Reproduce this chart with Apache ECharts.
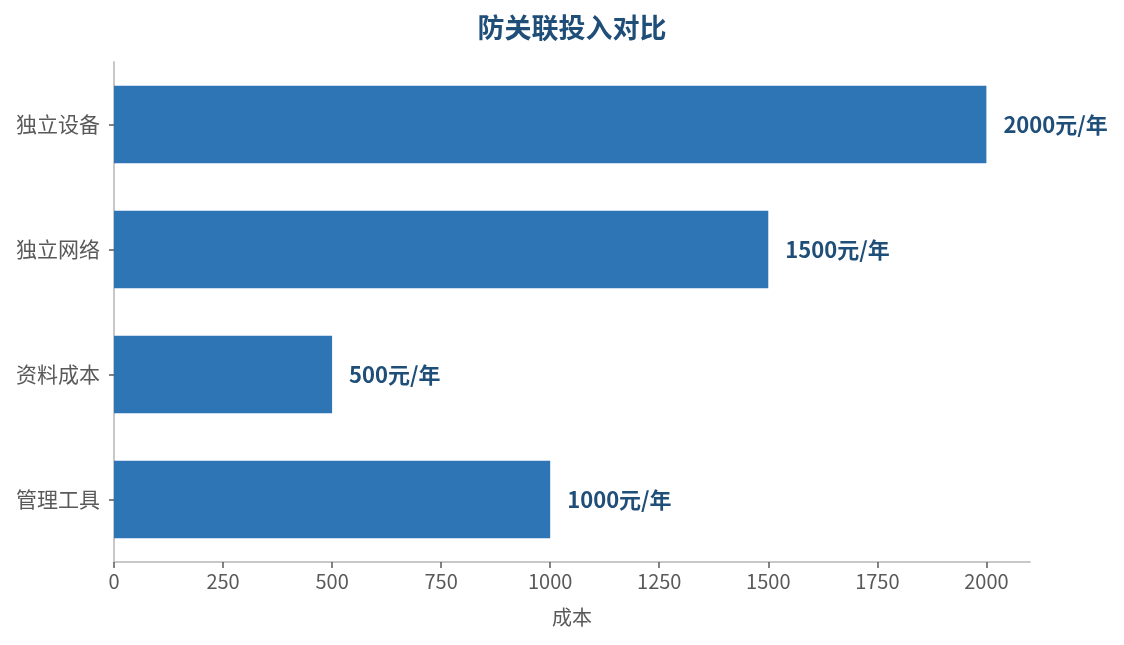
<!DOCTYPE html>
<html>
<head>
<meta charset="utf-8">
<script src="https://cdn.jsdelivr.net/npm/echarts@6/dist/echarts.min.js"></script>
<style>
  html, body { margin: 0; padding: 0; background: #fff; }
  #chart { width: 1124px; height: 645px; }
</style>
</head>
<body>
<div id="chart"></div>
<script>
// 数据
var categories = ['独立设备', '独立网络', '资料成本', '管理工具'];
var costs = [2000, 1500, 500, 1000];
var xTicks = [0, 250, 500, 750, 1000, 1250, 1500, 1750, 2000];

var font = '"Noto Sans CJK SC", "Noto Sans", sans-serif';
var chart = echarts.init(document.getElementById('chart'));

var option = {
  title: {   // 标题，居中于绘图区
    text: '防关联投入对比',
    left: 572,
    top: 14,
    padding: 0,
    textAlign: 'center',
    textStyle: { fontFamily: font, fontSize: 27, fontWeight: 'bold', color: '#1f4e79' }
  },
  grid: { left: 114, right: 94, top: 62, bottom: 83 },
  xAxis: {
    type: 'value',
    min: 0,
    max: 2100,
    interval: 250,
    name: '成本',
    nameLocation: 'middle',
    nameGap: 45,
    nameTextStyle: { fontFamily: font, fontSize: 20, color: '#595959' },
    axisLine: { show: true, lineStyle: { color: '#c8c8c8', width: 2 } },
    axisTick: { show: true, length: 6, customValues: xTicks, lineStyle: { color: '#595959', width: 1.5 } },
    axisLabel: {
      customValues: xTicks,
      margin: 9,
      fontFamily: font,
      fontSize: 20,
      color: '#595959',
      formatter: function (v) { return String(v); }   // 不要千位分隔符
    },
    splitLine: { show: false }
  },
  yAxis: {
    type: 'category',
    inverse: true,
    data: categories,
    axisLine: { show: true, lineStyle: { color: '#c8c8c8', width: 2 } },
    axisTick: { show: true, alignWithLabel: true, length: 5, lineStyle: { color: '#595959', width: 1.5 } },
    axisLabel: { margin: 14, fontFamily: font, fontSize: 21, color: '#595959' }
  },
  series: [
    {
      type: 'bar',
      data: costs,
      barWidth: '62%',
      itemStyle: { color: '#2e75b6' },
      label: {
        show: true,
        position: 'right',
        distance: 17,
        formatter: '{c}元/年',
        fontFamily: font,
        fontSize: 22,
        fontWeight: 'bold',
        color: '#1f4e79'
      }
    }
  ]
};
chart.setOption(option);
</script>
</body>
</html>
